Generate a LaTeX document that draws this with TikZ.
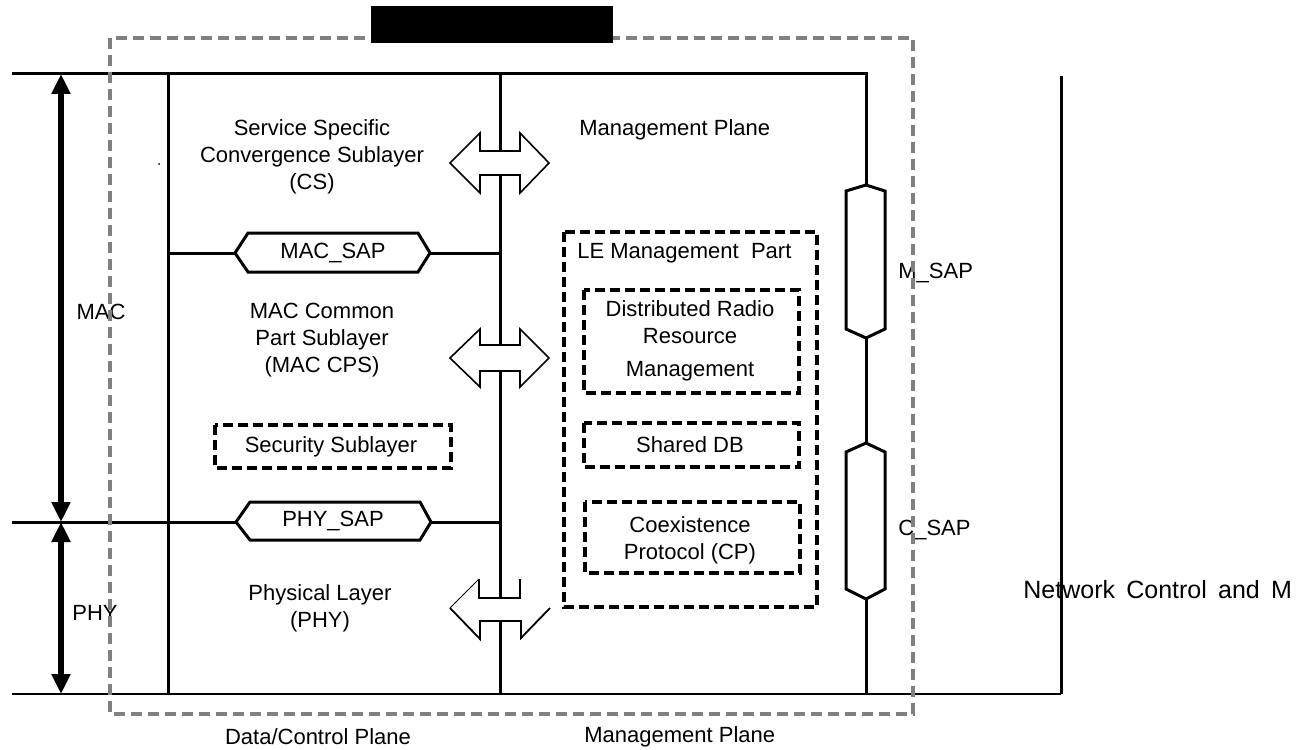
\documentclass[tikz,border=0pt]{standalone}
\usepackage{fontspec}
\setmainfont{Liberation Sans}
\usetikzlibrary{arrows.meta}
\begin{document}
\begin{tikzpicture}[x=0.5pt,y=-0.5pt,
  txt/.style={font=\fontsize{11}{13.5}\selectfont, inner sep=0pt, align=center},
  mainline/.style={line width=1.5pt},
  thinline/.style={line width=1pt},
  dboxthin/.style={line width=2pt, dash pattern=on 5pt off 2.5pt},
  dbox/.style={line width=2.4pt, dash pattern=on 5pt off 2.5pt},
  hexa/.style={line width=1.5pt, fill=white},
  dblarrow/.style={line width=0.8pt, fill=white, draw=black},
  layerarrow/.style={line width=2.6pt, {Triangle[width=9pt,length=10pt]}-{Triangle[width=9pt,length=10pt]}},
  graybox/.style={draw=gray, line width=2pt, dash pattern=on 5.5pt off 3pt}
]
\useasboundingbox (0,0) rectangle (1305,749);

% frame coordinates
\coordinate (tl) at (12,74);
\coordinate (tm) at (866,74);
\coordinate (ms1) at (866,185);
\coordinate (ms2) at (866,338);
\coordinate (cs1) at (866,443);
\coordinate (cs2) at (866,599);
\coordinate (bm) at (866,694);
\coordinate (bl) at (12,694);
\coordinate (br) at (1061,694);
\coordinate (rt) at (1061,76);
\coordinate (a1) at (168,74);
\coordinate (a2) at (168,694);
\coordinate (b1) at (500,74);
\coordinate (b2) at (500,694);
\coordinate (pl) at (12,522);
\coordinate (macL) at (235,253);
\coordinate (macR) at (430,253);
\coordinate (phyL) at (236,522);
\coordinate (phyR) at (431,522);

\draw[mainline] (tl) -- (tm) -- (ms1);
\draw[mainline] (ms2) -- (cs1);
\draw[mainline] (cs2) -- (bm);
\draw[mainline] (rt) -- (br);
\draw[thinline] (bl) -- (br);
\draw[mainline] (a1) -- (a2);
\draw[mainline] (b1) -- (b2);

% SAP lines
\draw[mainline] (a1 |- macL) -- (macL);
\draw[mainline] (macR) -- (b1 |- macR);
\draw[mainline] (pl) -- (phyL);
\draw[mainline] (phyR) -- (b1 |- phyR);

% SAP hexagons
\draw[hexa] (235,253) -- (248,233) -- (418,233) -- (430,253) -- (418,272) -- (248,272) -- cycle;
\node[txt] (macsap) at (333,253) {MAC\_SAP};
\draw[hexa] (236,522) -- (250,502) -- (420,502) -- (431,522) -- (420,540) -- (250,540) -- cycle;
\node[txt] (physap) at (333,521) {PHY\_SAP};

% double arrows
\path[dblarrow] (450,163) -- (480,133) -- (480,151) -- (520,151) -- (520,133) -- (549,163) -- (520,193) -- (520,175) -- (480,175) -- (480,193) -- cycle;
\path[dblarrow] (450,358) -- (480,329) -- (480,345) -- (520,345) -- (520,329) -- (549,358) -- (520,387) -- (520,371) -- (480,371) -- (480,387) -- cycle;
\fill[white] (450,608) -- (479,579) -- (479,598) -- (520,598) -- (520,579) -- (550,608) -- (521,638) -- (521,621) -- (480,621) -- (480,639) -- cycle;
\draw[line width=0.5pt] (479,579) -- (450,608);
\draw[line width=0.9pt] (450,608) -- (480,639) -- (480,621) -- (521,621) -- (521,638) -- (550,608);
\draw[line width=0.9pt] (479,579) -- (479,598) -- (520,598) -- (520,579);

% capsules
\draw[mainline, fill=white] (ms1) -- (885,191) -- (885,329) -- (ms2) -- (846,329) -- (846,191) -- cycle;
\draw[mainline, fill=white] (cs1) -- (885,452) -- (885,589) -- (cs2) -- (846,589) -- (846,452) -- cycle;

% layer arrows
\coordinate (la) at (61,74);
\coordinate (lb) at (61,522);
\coordinate (lc) at (61,694);
\draw[layerarrow] (la) -- (lb);
\draw[layerarrow] (lb) -- (lc);

% dashed boxes
\draw[dboxthin] (564,232) rectangle (817,607);
\draw[dbox] (584,290) rectangle (799,393);
\draw[dbox] (584,423) rectangle (799,467);
\draw[dbox] (585,502) rectangle (800,573);
\draw[dbox] (215,425) rectangle (451,468);

% texts
\node[txt] (cs) at (312,157) {Service Specific\\Convergence Sublayer\\(CS)};
\node[txt] (cps) at (322,340) {MAC Common\\Part Sublayer\\(MAC CPS)};
\node[txt] (phy) at (320,608) {Physical Layer\\(PHY)};
\node[txt] (sec) at (331,447) {Security Sublayer};
\node[txt, anchor=west] (mp1) at (579,130) {Management Plane};
\node[txt, anchor=west] (lem) at (577,253) {LE Management\ \ Part};
\node[txt] (drrm) at (690,341) {Distributed Radio\\Resource\\[3pt]Management};
\node[txt] (sdb) at (690,445) {Shared DB};
\node[txt] (cp) at (690,540) {Coexistence\\Protocol (CP)};
\node[txt] (mac) at (101,312) {MAC};
\node[txt] (phyl) at (95,613) {PHY};
\node[txt, anchor=west] (msap) at (898,273) {M\_SAP};
\node[txt, anchor=west] (csap) at (898,530) {C\_SAP};
\node[txt, anchor=west, font=\fontsize{12.5}{15}\selectfont] (net) at (1023,590) {Network\hspace{0.45em}Control\hspace{0.45em}and\hspace{0.45em}M};
\node[txt] (dcp) at (318,737) {Data/Control Plane};
\node[txt, anchor=west] (mp2) at (584,737) {Management Plane};
\fill (159,164) circle (1);

% gray dashed frame and black cover
\draw[graybox] (110,38) rectangle (913,714);
\fill[black] (371,6) rectangle (613,43);
\end{tikzpicture}
\end{document}
